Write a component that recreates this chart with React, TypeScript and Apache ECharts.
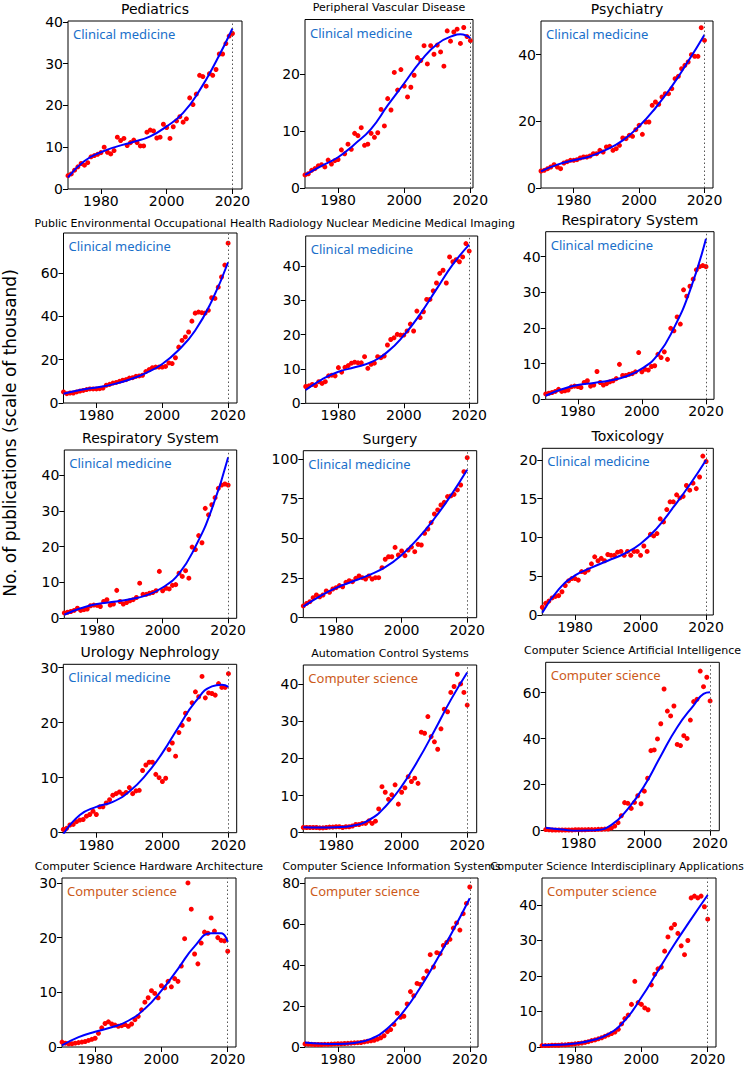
import React, { useEffect, useRef } from "react";
import * as echarts from "echarts";

const years = [
  1970, 1971, 1972, 1973, 1974, 1975, 1976, 1977, 1978, 1979,
  1980, 1981, 1982, 1983, 1984, 1985, 1986, 1987, 1988, 1989,
  1990, 1991, 1992, 1993, 1994, 1995, 1996, 1997, 1998, 1999,
  2000, 2001, 2002, 2003, 2004, 2005, 2006, 2007, 2008, 2009,
  2010, 2011, 2012, 2013, 2014, 2015, 2016, 2017, 2018, 2019,
  2020,
];
const fitYears = [1970, 1975, 1980, 1985, 1990, 1995, 2000, 2005, 2010, 2015, 2020];
const fitYearsPeak17 = [1970, 1975, 1980, 1985, 1990, 1995, 2000, 2005, 2010, 2015, 2017, 2020];
const fitYearsPeak18 = [1970, 1975, 1980, 1985, 1990, 1995, 2000, 2005, 2010, 2015, 2018, 2020];
const xTicks = [1980, 2000, 2020];

// ---- Pediatrics
const pediatricsPts = [3.2, 3.6, 4.5, 5.3, 6.1, 5.7, 6.3, 7.7, 8.0, 8.3, 8.7, 10.0, 8.8, 8.4, 9.2, 12.4, 11.6, 12.1, 10.4, 11.1, 11.7, 11.1, 10.3, 10.3, 13.6, 14.1, 13.9, 12.2, 12.4, 15.5, 14.7, 12.1, 14.9, 16.3, 17.3, 16.0, 16.8, 21.8, 20.2, 22.7, 27.2, 26.9, 24.6, 27.6, 27.2, 28.6, 32.3, 32.3, 34.8, 36.6, 37.2];
const pediatricsFit = [2.8, 6.7, 8.8, 10.2, 11.3, 12.6, 15.0, 18.2, 23.6, 30.5, 38.4];
// ---- Peripheral Vascular Disease
const peripheralPts = [2.3, 2.5, 3.1, 3.4, 3.9, 4.1, 3.7, 4.9, 4.2, 4.8, 5.0, 6.7, 6.0, 7.7, 6.8, 9.6, 9.2, 10.6, 7.5, 7.7, 9.6, 8.9, 9.7, 13.8, 10.9, 15.7, 13.7, 20.3, 17.2, 20.8, 17.9, 16.0, 17.7, 19.8, 22.9, 22.4, 25.0, 21.8, 25.0, 23.5, 25.1, 23.9, 21.4, 27.6, 25.8, 27.4, 27.9, 25.4, 28.2, 26.6, 25.9];
const peripheralFit = [2.3, 3.9, 5.4, 7.7, 10.4, 14.5, 18.4, 22.3, 25.3, 26.8, 27.0, 26.3];
// ---- Psychiatry
const psychiatryPts = [5.1, 5.3, 5.8, 6.3, 7.0, 6.3, 5.8, 7.5, 7.9, 8.3, 8.3, 8.5, 9.0, 9.3, 9.3, 9.6, 10.3, 10.3, 11.3, 10.8, 12.3, 12.5, 11.3, 11.8, 12.8, 15.0, 14.8, 15.8, 15.5, 17.5, 18.8, 16.1, 19.8, 19.8, 24.8, 25.8, 25.1, 27.3, 28.3, 28.3, 29.8, 32.8, 33.5, 35.8, 36.8, 37.8, 40.0, 39.5, 39.5, 48.1, 44.3];
const psychiatryFit = [5.0, 7.0, 8.3, 9.5, 11.5, 14.3, 18.5, 24.0, 30.5, 38.0, 46.0];
// ---- Public Environmental Occupational Health
const publicHealthPts = [5.1, 4.3, 4.6, 4.6, 5.1, 5.5, 5.8, 6.2, 6.5, 6.5, 6.5, 6.6, 6.9, 8.2, 8.6, 9.2, 9.5, 10.0, 10.5, 10.8, 11.5, 11.7, 12.3, 12.5, 12.8, 14.5, 15.4, 16.3, 16.6, 16.6, 16.6, 16.9, 18.5, 18.2, 20.9, 25.8, 28.9, 30.5, 32.8, 37.8, 41.5, 42.0, 41.7, 41.5, 42.8, 48.6, 48.3, 53.5, 58.2, 63.7, 73.8];
const publicHealthFit = [4.3, 6.0, 7.2, 8.6, 10.8, 13.8, 18.0, 24.5, 33.5, 47.0, 65.0];
// ---- Radiology Nuclear Medicine Medical Imaging
const radiologyPts = [4.9, 5.1, 5.5, 5.2, 6.3, 5.8, 6.3, 8.0, 8.2, 8.0, 10.4, 9.1, 10.5, 11.0, 11.7, 12.0, 11.8, 11.8, 13.6, 10.2, 11.4, 11.7, 13.6, 13.3, 13.8, 17.0, 18.6, 19.1, 20.1, 19.9, 19.9, 21.1, 23.1, 21.1, 26.9, 25.0, 26.7, 30.3, 30.3, 32.8, 35.1, 37.9, 38.8, 35.1, 42.7, 41.3, 41.9, 41.3, 42.7, 46.6, 44.4];
const radiologyFit = [3.9, 7.0, 9.2, 10.5, 12.0, 15.0, 19.8, 26.0, 33.3, 40.5, 46.3];
// ---- Respiratory System
const respiratoryPts = [1.5, 1.7, 1.9, 2.2, 2.8, 2.2, 2.4, 2.6, 3.5, 3.7, 3.6, 3.3, 4.7, 5.2, 3.7, 4.0, 7.8, 4.7, 4.0, 4.4, 4.9, 5.2, 5.8, 9.8, 6.7, 6.7, 7.0, 7.2, 7.7, 13.1, 7.7, 8.4, 8.2, 9.2, 9.4, 12.6, 11.7, 13.3, 11.2, 19.9, 19.2, 23.1, 21.1, 30.7, 28.9, 31.7, 33.7, 36.3, 37.2, 37.5, 37.2];
const respiratoryFit = [1.0, 2.8, 4.0, 4.6, 5.3, 6.4, 8.6, 12.5, 20.0, 30.5, 45.0];
// ---- Surgery
const surgeryPts = [7.4, 9.0, 10.1, 12.6, 14.3, 13.2, 14.3, 16.8, 16.0, 18.1, 18.9, 20.2, 19.5, 22.3, 23.3, 22.7, 24.8, 26.3, 25.2, 24.4, 26.3, 24.4, 25.2, 25.2, 31.5, 36.8, 38.4, 38.4, 44.3, 39.5, 42.0, 39.1, 42.6, 44.5, 41.6, 46.2, 45.8, 53.2, 55.9, 59.9, 65.3, 67.9, 71.0, 72.7, 76.3, 76.7, 77.7, 80.5, 83.6, 92.0, 100.8];
const surgeryFit = [7.0, 13.5, 18.8, 22.8, 26.8, 31.8, 39.5, 50.0, 62.5, 77.0, 93.2];
// ---- Toxicology
const toxicologyPts = [1.0, 1.5, 1.8, 2.2, 2.4, 2.5, 3.0, 3.8, 4.4, 4.7, 4.7, 4.5, 5.6, 5.5, 5.8, 6.6, 7.5, 7.0, 7.3, 7.0, 7.8, 7.7, 7.7, 8.1, 8.2, 7.7, 8.2, 7.7, 8.2, 8.2, 7.7, 8.9, 8.2, 10.4, 10.2, 10.5, 12.4, 12.0, 13.6, 14.6, 14.6, 15.5, 15.1, 15.3, 16.7, 16.1, 17.0, 16.3, 17.8, 20.5, 19.8];
const toxicologyFit = [0.3, 3.3, 5.1, 6.1, 7.0, 7.9, 9.2, 11.2, 13.9, 16.8, 20.0];
// ---- Urology Nephrology
const urologyPts = [0.6, 0.8, 1.4, 1.5, 2.0, 2.3, 2.4, 3.0, 3.3, 3.9, 3.3, 4.7, 4.7, 5.4, 6.0, 6.8, 7.1, 7.4, 7.0, 7.3, 8.2, 7.1, 7.6, 7.7, 11.3, 12.3, 12.8, 12.8, 10.6, 10.0, 9.3, 9.9, 15.1, 16.3, 13.9, 18.2, 19.5, 21.7, 20.6, 23.6, 25.6, 24.7, 28.4, 24.5, 25.4, 25.3, 25.0, 27.1, 26.4, 26.4, 28.9];
const urologyFit = [-0.3, 3.2, 4.7, 5.6, 7.5, 10.5, 14.5, 19.3, 23.8, 26.6, 26.9, 26.5];
// ---- Automation Control Systems
const automationPts = [1.4, 1.4, 1.4, 1.4, 1.4, 1.3, 1.3, 1.4, 1.5, 1.5, 1.6, 1.6, 1.4, 1.6, 1.6, 1.8, 2.2, 2.2, 2.5, 2.5, 3.2, 2.5, 3.1, 6.4, 12.4, 10.9, 9.0, 10.2, 12.9, 7.7, 10.9, 12.1, 15.1, 13.8, 14.7, 13.3, 27.1, 26.8, 31.3, 25.9, 24.5, 22.5, 28.0, 33.3, 32.6, 37.8, 39.4, 42.7, 40.1, 37.8, 34.4];
const automationFit = [1.5, 1.4, 1.5, 1.9, 3.4, 7.0, 12.5, 19.5, 27.5, 35.8, 43.2];
// ---- Computer Science Artificial Intelligence
const aiPts = [0.5, 0.4, 0.3, 0.3, 0.3, 0.3, 0.3, 0.3, 0.3, 0.4, 0.4, 0.4, 0.4, 0.5, 0.5, 0.5, 0.6, 0.6, 0.7, 0.7, 1.2, 2.0, 3.5, 6.5, 12.2, 11.9, 9.7, 12.3, 15.2, 11.7, 17.2, 22.8, 34.8, 35.1, 39.9, 46.5, 61.6, 52.0, 49.9, 54.2, 37.5, 37.0, 41.3, 40.1, 48.1, 56.1, 57.1, 69.4, 62.6, 66.7, 56.4];
const aiFit = [1.3, 0.5, 0.0, 0.2, 2.5, 9.5, 19.5, 32.5, 45.0, 54.5, 59.5, 60.2];
// ---- Computer Science Hardware Architecture
const hardwarePts = [0.9, 0.7, 0.6, 0.6, 0.7, 0.8, 0.9, 1.0, 1.2, 1.4, 1.6, 2.5, 3.5, 4.3, 4.6, 4.2, 4.0, 3.8, 3.9, 4.1, 3.8, 4.2, 5.0, 5.6, 6.8, 8.2, 9.0, 10.3, 9.8, 9.0, 11.2, 10.8, 12.0, 11.0, 12.5, 12.0, 14.8, 19.8, 30.0, 25.2, 17.0, 15.2, 19.0, 21.0, 20.8, 23.6, 21.2, 20.0, 19.5, 19.4, 17.5];
const hardwareFit = [0.3, 1.8, 2.8, 3.6, 4.8, 7.0, 10.3, 14.3, 18.4, 20.8, 20.8, 19.2];
// ---- Computer Science Information Systems
const infoSysPts = [1.5, 1.4, 1.3, 1.2, 1.2, 1.2, 1.3, 1.3, 1.4, 1.5, 1.6, 1.6, 1.7, 1.8, 1.9, 2.0, 2.1, 2.2, 2.5, 2.8, 3.0, 3.3, 3.8, 4.5, 5.5, 7.5, 8.5, 11.0, 16.5, 14.5, 15.0, 21.0, 27.0, 25.0, 31.0, 30.5, 33.5, 37.0, 45.0, 39.0, 46.0, 45.5, 49.5, 51.0, 52.5, 58.0, 60.5, 57.0, 65.0, 70.0, 78.0];
const infoSysFit = [2.2, 1.6, 1.5, 2.0, 4.0, 9.0, 17.5, 29.0, 42.5, 57.0, 72.5];
// ---- Computer Science Interdisciplinary Applications
const interdiscPts = [0.4, 0.4, 0.4, 0.5, 0.5, 0.5, 0.6, 0.6, 0.7, 0.8, 0.9, 1.0, 1.1, 1.3, 1.5, 1.8, 2.0, 2.3, 2.6, 3.0, 3.4, 3.8, 4.2, 5.0, 6.5, 8.0, 9.0, 12.0, 18.5, 12.5, 12.0, 11.0, 10.5, 17.5, 20.5, 22.0, 22.5, 27.0, 31.0, 33.5, 34.5, 32.0, 28.5, 26.0, 30.0, 42.0, 42.5, 42.0, 42.5, 39.5, 36.0];
const interdiscFit = [0.5, 0.6, 1.0, 1.9, 3.6, 7.5, 14.0, 21.5, 29.0, 36.0, 42.8];

const titles = [
  "Pediatrics", "Peripheral Vascular Disease", "Psychiatry",
  "Public Environmental Occupational Health", "Radiology Nuclear Medicine Medical Imaging", "Respiratory System",
  "Respiratory System", "Surgery", "Toxicology",
  "Urology Nephrology", "Automation Control Systems", "Computer Science Artificial Intelligence",
  "Computer Science Hardware Architecture", "Computer Science Information Systems", "Computer Science Interdisciplinary Applications",
];
const fields = [
  "Clinical medicine", "Clinical medicine", "Clinical medicine",
  "Clinical medicine", "Clinical medicine", "Clinical medicine",
  "Clinical medicine", "Clinical medicine", "Clinical medicine",
  "Clinical medicine", "Computer science", "Computer science",
  "Computer science", "Computer science", "Computer science",
];
const pointSets = [
  pediatricsPts, peripheralPts, psychiatryPts,
  publicHealthPts, radiologyPts, respiratoryPts,
  respiratoryPts, surgeryPts, toxicologyPts,
  urologyPts, automationPts, aiPts,
  hardwarePts, infoSysPts, interdiscPts,
];
const fitSets = [
  pediatricsFit, peripheralFit, psychiatryFit,
  publicHealthFit, radiologyFit, respiratoryFit,
  respiratoryFit, surgeryFit, toxicologyFit,
  urologyFit, automationFit, aiFit,
  hardwareFit, infoSysFit, interdiscFit,
];
const fitYearSets = [
  fitYears, fitYearsPeak17, fitYears,
  fitYears, fitYears, fitYears,
  fitYears, fitYears, fitYears,
  fitYearsPeak18, fitYears, fitYearsPeak18,
  fitYearsPeak18, fitYears, fitYears,
];
const yTickSets = [
  [0, 10, 20, 30, 40], [0, 10, 20], [0, 20, 40],
  [0, 20, 40, 60], [0, 10, 20, 30, 40], [0, 10, 20, 30, 40],
  [0, 10, 20, 30, 40], [0, 25, 50, 75, 100], [0, 5, 10, 15, 20],
  [0, 10, 20, 30], [0, 10, 20, 30, 40], [0, 20, 40, 60],
  [0, 10, 20, 30], [0, 20, 40, 60, 80], [0, 10, 20, 30, 40],
];
const yMaxes = [40.2, 29.6, 50.1, 78.5, 48.8, 47, 47, 105.2, 21.5, 30.6, 45.2, 73.2, 30.9, 82.4, 47.6];
const xMaxes = [2022.9, 2020.8, 2022.6, 2022.7, 2022.6, 2022.5, 2022.6, 2022.9, 2022.2, 2022.5, 2022.9, 2022.8, 2022.5, 2022.5, 2022.5];

// layout (pixels)
const layout = [
  { l: 68, t: 21, w: 174, h: 168 },
  { l: 305, t: 19.5, w: 168, h: 168.5 },
  { l: 541, t: 21, w: 172, h: 167 },
  { l: 63.5, t: 233, w: 173.5, h: 170 },
  { l: 305.7, t: 236, w: 172, h: 167.3 },
  { l: 545.7, t: 231.7, w: 168.3, h: 167.6 },
  { l: 64.3, t: 450, w: 172.4, h: 168.3 },
  { l: 303.3, t: 450.7, w: 173.4, h: 167 },
  { l: 542.3, t: 448.3, w: 171, h: 166.7 },
  { l: 63.3, t: 664.3, w: 173.4, h: 168.4 },
  { l: 303.3, t: 665, w: 173.4, h: 167.7 },
  { l: 545.7, t: 662.3, w: 173.6, h: 168.4 },
  { l: 62, t: 878, w: 174, h: 169 },
  { l: 305, t: 878, w: 173, h: 169 },
  { l: 542, t: 878, w: 174, h: 169 },
];
const titleSizes = [14, 11, 14, 11, 11, 14, 14, 14, 14, 14, 11, 11, 11, 11, 10.6];
const titleCenterX = [null, null, null, null, null, null, null, null, null, null, null, null, null, null, 617];

function buildOption() {
  const grids: any[] = [];
  const xAxes: any[] = [];
  const yAxes: any[] = [];
  const series: any[] = [];
  const graphics: any[] = [];
  const tickFont = "DejaVu Sans";

  layout.forEach((g, i) => {
    grids.push({
      left: g.l, top: g.t, width: g.w, height: g.h,
      show: true, borderColor: "#000", borderWidth: 1, backgroundColor: "transparent",
    });
    xAxes.push({
      type: "value", gridIndex: i, min: 1970, max: xMaxes[i],
      axisLine: { show: false },
      axisTick: { show: true, inside: false, length: 5, lineStyle: { color: "#000", width: 1 }, customValues: xTicks },
      axisLabel: {
        customValues: xTicks, fontSize: 14, color: "#000", fontFamily: tickFont, margin: 5,
        formatter: (v: number) => String(v),
      },
      splitLine: { show: false },
    });
    yAxes.push({
      type: "value", gridIndex: i, min: 0, max: yMaxes[i],
      axisLine: { show: false },
      axisTick: { show: true, inside: false, length: 5, lineStyle: { color: "#000", width: 1 }, customValues: yTickSets[i] },
      axisLabel: {
        customValues: yTickSets[i], fontSize: 14, color: "#000", fontFamily: tickFont, margin: 5,
        formatter: (v: number) => String(v),
      },
      splitLine: { show: false },
    });
    const pts = pointSets[i];
    series.push({
      type: "scatter", xAxisIndex: i, yAxisIndex: i,
      data: years.map((y, k) => [y, pts[k]]),
      symbolSize: 5, itemStyle: { color: "#ff0000", opacity: 1 }, z: 2,
    });
    const fy = fitYearSets[i];
    const fv = fitSets[i];
    series.push({
      type: "line", xAxisIndex: i, yAxisIndex: i,
      data: fy.map((y, k) => [y, fv[k]]),
      smooth: 0.5, showSymbol: false, clip: true,
      lineStyle: { color: "#0000ff", width: 2 }, z: 3,
      markLine: {
        silent: true, symbol: ["none", "none"], label: { show: false },
        lineStyle: { type: [1.5, 2.5], color: "#555", width: 1 },
        data: [{ xAxis: 2020 }],
      },
    });
    const ty = i === 3 || i === 4 ? 223 : g.t - 12;
    const cx = titleCenterX[i] ?? g.l + g.w / 2;
    graphics.push({
      type: "text", x: cx, y: ty,
      style: {
        text: titles[i], fill: "#000",
        font: `normal ${titleSizes[i]}px "DejaVu Sans"`,
        textAlign: "center", textVerticalAlign: "middle",
      },
    });
    const isClin = fields[i] === "Clinical medicine";
    graphics.push({
      type: "text", x: g.l + 5, y: g.t + 13,
      style: {
        text: fields[i], fill: isClin ? "#1a6fca" : "#cc5a1a",
        font: `normal 13px "Noto Sans"`,
        textAlign: "left", textVerticalAlign: "middle",
      },
    });
  });

  graphics.push({
    type: "text", x: 10, y: 433, rotation: Math.PI / 2,
    style: {
      text: "No. of publications (scale of thousand)", fill: "#000",
      font: `normal 17px "DejaVu Sans"`, textAlign: "center", textVerticalAlign: "middle",
    },
  });

  return {
    animation: false,
    backgroundColor: "#fff",
    grid: grids,
    xAxis: xAxes,
    yAxis: yAxes,
    series,
    graphic: graphics,
  };
}

export default function App() {
  const ref = useRef<HTMLDivElement>(null);
  useEffect(() => {
    document.body.style.margin = "0";
    const chart = echarts.init(ref.current!, null, { renderer: "svg" });
    chart.setOption(buildOption() as any);
    return () => chart.dispose();
  }, []);
  return <div ref={ref} style={{ width: 750, height: 1073 }} />;
}
